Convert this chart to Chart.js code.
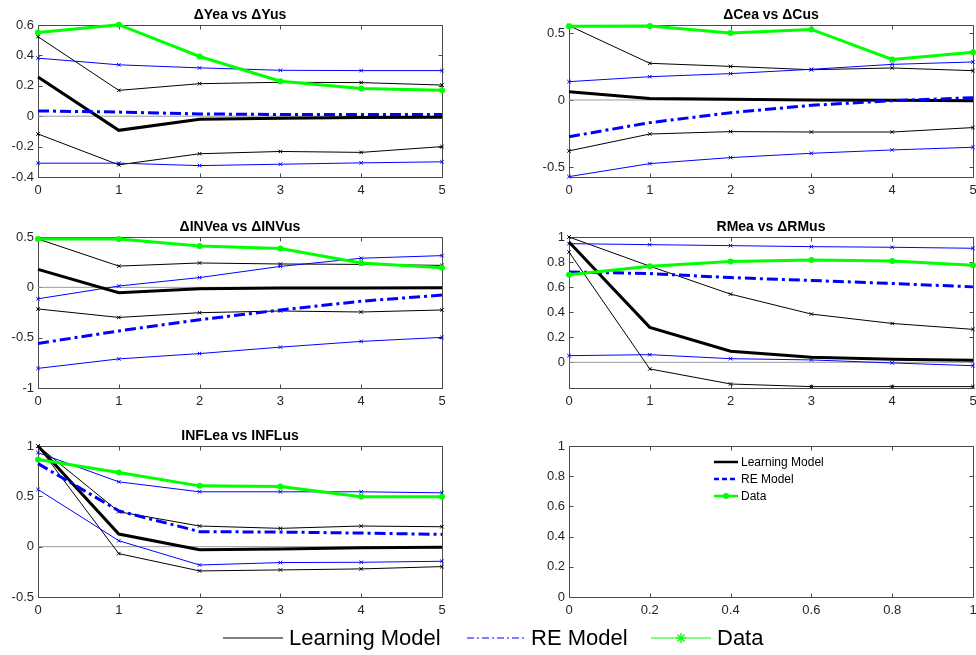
<!DOCTYPE html>
<html><head><meta charset="utf-8">
<script src="https://cdn.jsdelivr.net/npm/chart.js@4.4.1/dist/chart.umd.min.js"></script>
<style>
html,body{margin:0;padding:0;background:#fff;width:976px;height:655px;overflow:hidden;font-family:"Liberation Sans",Arial,Helvetica,sans-serif;}
canvas{position:absolute;}
#overlay{position:absolute;left:0;top:0;pointer-events:none;}
.t{position:absolute;white-space:nowrap;color:#000;}
.s{font-size:12px;line-height:14px;}
.b{font-size:22px;line-height:26px;}
</style></head><body>
<svg id="overlay" width="976" height="655">
  <line x1="714" y1="462" x2="738" y2="462" stroke="#000" stroke-width="2.5"/>
  <line x1="714" y1="479" x2="738" y2="479" stroke="#0000ff" stroke-width="2.5" stroke-dasharray="5,3"/>
  <line x1="714" y1="496" x2="738" y2="496" stroke="#00ff00" stroke-width="2.5"/>
  <circle cx="726" cy="496" r="3" fill="#00ff00"/>
  <line x1="223" y1="638" x2="283" y2="638" stroke="#000" stroke-width="1"/>
  <line x1="467" y1="638" x2="527" y2="638" stroke="#0000ff" stroke-width="1" stroke-dasharray="7,3,2,3"/>
  <line x1="651" y1="638" x2="711" y2="638" stroke="#00ff00" stroke-width="1"/>
  <g stroke="#00ff00" stroke-width="1.3">
    <line x1="676" y1="638" x2="686" y2="638"/>
    <line x1="681" y1="633" x2="681" y2="643"/>
    <line x1="677.5" y1="634.5" x2="684.5" y2="641.5"/>
    <line x1="677.5" y1="641.5" x2="684.5" y2="634.5"/>
  </g>
</svg>
<div class="t s" style="left:741px;top:455px;">Learning Model</div>
<div class="t s" style="left:741px;top:472px;">RE Model</div>
<div class="t s" style="left:741px;top:489px;">Data</div>
<div class="t b" style="left:289px;top:625px;">Learning Model</div>
<div class="t b" style="left:531px;top:625px;">RE Model</div>
<div class="t b" style="left:717px;top:625px;">Data</div>
<script>
const steps = [0,1,2,3,4,5];
const zeroLine = [0,0,0,0,0,0];

// ΔYea vs ΔYus
const yeaLearn   = [0.258, -0.093, -0.020, -0.013, -0.009, -0.007];
const yeaLearnHi = [0.523, 0.170, 0.214, 0.223, 0.221, 0.205];
const yeaLearnLo = [-0.117, -0.320, -0.247, -0.232, -0.238, -0.200];
const yeaRE      = [0.035, 0.027, 0.015, 0.011, 0.011, 0.011];
const yeaREHi    = [0.382, 0.338, 0.318, 0.302, 0.300, 0.300];
const yeaRELo    = [-0.309, -0.309, -0.325, -0.316, -0.307, -0.300];
const yeaData    = [0.550, 0.602, 0.393, 0.230, 0.183, 0.170];
const yeaTicks   = [-0.4, -0.2, 0, 0.2, 0.4, 0.6];

// ΔCea vs ΔCus
const ceaLearn   = [0.062, 0.012, 0.005, 0.000, -0.002, -0.005];
const ceaLearnHi = [0.555, 0.274, 0.251, 0.226, 0.239, 0.219];
const ceaLearnLo = [-0.380, -0.254, -0.236, -0.239, -0.239, -0.206];
const ceaRE      = [-0.274, -0.169, -0.095, -0.040, -0.005, 0.017];
const ceaREHi    = [0.137, 0.174, 0.197, 0.229, 0.266, 0.284];
const ceaRELo    = [-0.572, -0.475, -0.430, -0.398, -0.373, -0.353];
const ceaData    = [0.550, 0.552, 0.500, 0.527, 0.303, 0.356];
const ceaTicks   = [-0.5, 0, 0.5];

// ΔINVea vs ΔINVus
const invLearn   = [0.178, -0.054, -0.013, -0.007, -0.007, -0.003];
const invLearnHi = [0.480, 0.211, 0.242, 0.232, 0.228, 0.218];
const invLearnLo = [-0.215, -0.299, -0.252, -0.235, -0.245, -0.225];
const invRE      = [-0.557, -0.433, -0.322, -0.225, -0.138, -0.077];
const invREHi    = [-0.114, 0.013, 0.097, 0.208, 0.289, 0.315];
const invRELo    = [-0.805, -0.711, -0.658, -0.594, -0.537, -0.497];
const invData    = [0.480, 0.480, 0.410, 0.386, 0.242, 0.195];
const invTicks   = [-1, -0.5, 0, 0.5];

// RMea vs ΔRMus
const rmLearn    = [0.960, 0.279, 0.088, 0.040, 0.024, 0.016];
const rmLearnHi  = [1.000, 0.767, 0.544, 0.385, 0.310, 0.263];
const rmLearnLo  = [0.880, -0.053, -0.173, -0.194, -0.194, -0.194];
const rmRE       = [0.721, 0.708, 0.676, 0.653, 0.629, 0.602];
const rmREHi     = [0.947, 0.939, 0.931, 0.923, 0.918, 0.910];
const rmRELo     = [0.053, 0.061, 0.029, 0.019, -0.005, -0.027];
const rmData     = [0.698, 0.767, 0.804, 0.817, 0.809, 0.775];
const rmTicks    = [0, 0.2, 0.4, 0.6, 0.8, 1];

// INFLea vs INFLus
const inflLearn   = [1.000, 0.125, -0.030, -0.023, -0.010, -0.007];
const inflLearnHi = [1.000, 0.347, 0.205, 0.182, 0.205, 0.198];
const inflLearnLo = [1.000, -0.069, -0.241, -0.231, -0.221, -0.198];
const inflRE      = [0.825, 0.356, 0.149, 0.145, 0.135, 0.122];
const inflREHi    = [0.934, 0.644, 0.545, 0.545, 0.545, 0.535];
const inflRELo    = [0.568, 0.059, -0.182, -0.158, -0.155, -0.145];
const inflData    = [0.865, 0.736, 0.604, 0.597, 0.495, 0.495];
const inflTicks   = [-0.5, 0, 0.5, 1];

const stepTicks  = [0, 1, 2, 3, 4, 5];
const unitTicks  = [0, 0.2, 0.4, 0.6, 0.8, 1];

const FONT = '"Liberation Sans", Arial, Helvetica, sans-serif';
const AX = '#262626';

const framePlugin = {
  id: 'frame',
  beforeDatasetsDraw(chart, args, opts) {
    const ctx = chart.ctx, a = chart.chartArea;
    const xs = chart.scales.x, ys = chart.scales.y;
    ctx.save();
    ctx.strokeStyle = '#4a4a4a';
    ctx.lineWidth = 1;
    ctx.beginPath();
    const L = Math.round(a.left) + 0.5, R = Math.round(a.right) + 0.5;
    const T = Math.round(a.top) + 0.5, B = Math.round(a.bottom) + 0.5;
    ctx.rect(L, T, R - L, B - T);
    xs.ticks.forEach(t => {
      const px = Math.round(xs.getPixelForValue(t.value)) + 0.5;
      ctx.moveTo(px, B); ctx.lineTo(px, B - 4);
      ctx.moveTo(px, T); ctx.lineTo(px, T + 4);
    });
    ys.ticks.forEach(t => {
      const py = Math.round(ys.getPixelForValue(t.value)) + 0.5;
      ctx.moveTo(L, py); ctx.lineTo(L + 4, py);
      ctx.moveTo(R, py); ctx.lineTo(R - 4, py);
    });
    ctx.stroke();
    ctx.restore();
  },
  afterDraw(chart, args, opts) {
    if (!opts.title) return;
    const ctx = chart.ctx, a = chart.chartArea;
    ctx.save();
    ctx.font = 'bold 14px ' + FONT;
    ctx.fillStyle = '#000';
    ctx.textAlign = 'center';
    ctx.textBaseline = 'middle';
    ctx.fillText(opts.title, (a.left + a.right) / 2, a.top - 10);
    ctx.restore();
  }
};

function pts(arr) { return steps.map((x, i) => ({x: x, y: arr[i]})); }

function seriesSet(learn, learnHi, learnLo, re, reHi, reLo, data) {
  const band = (arr, col, ord) => ({
    data: pts(arr), borderColor: col, borderWidth: 1, pointStyle: 'crossRot',
    pointRadius: 2.5, pointBorderWidth: 1, pointBorderColor: col, pointBackgroundColor: col,
    order: ord, tension: 0, clip: false
  });
  return [
    {data: pts(zeroLine), borderColor: '#9a9a9a', borderWidth: 1, pointRadius: 0, order: 10, clip: false},
    band(learnHi, '#000000', 7),
    band(learnLo, '#000000', 7),
    band(reHi, '#0000ff', 6),
    band(reLo, '#0000ff', 6),
    {data: pts(learn), borderColor: '#000000', borderWidth: 3, pointRadius: 0, order: 4, clip: false},
    {data: pts(re), borderColor: '#0000ff', borderWidth: 3, borderDash: [11, 4, 3, 4], pointRadius: 0, order: 3, clip: false},
    {data: pts(data), borderColor: '#00ff00', borderWidth: 3, pointRadius: 3, pointStyle: 'circle',
     pointBackgroundColor: '#00ff00', pointBorderColor: '#00ff00', pointBorderWidth: 0, order: 1, clip: false}
  ];
}

function fmt(v) { return String(Math.round(v * 1000) / 1000); }

function makePanel(left, top, w, h, title, xTicks, xMin, xMax, yTicks, yMin, yMax, datasets) {
  const PL = 40, PT = 25, PR = 10, PB = 25;
  const cv = document.createElement('canvas');
  cv.width = w + PL + PR; cv.height = h + PT + PB;
  cv.style.left = (left - PL) + 'px'; cv.style.top = (top - PT) + 'px';
  cv.style.width = cv.width + 'px'; cv.style.height = cv.height + 'px';
  document.body.insertBefore(cv, document.getElementById('overlay'));
  new Chart(cv, {
    type: 'line',
    data: {datasets: datasets},
    plugins: [framePlugin],
    options: {
      responsive: false, animation: false, devicePixelRatio: 1,
      layout: {padding: {left: 0, top: PT, right: PR, bottom: 0}},
      plugins: {legend: {display: false}, tooltip: {enabled: false}, frame: {title: title}},
      scales: {
        x: {
          type: 'linear', min: xMin, max: xMax,
          grid: {display: false, drawTicks: false}, border: {display: false},
          afterBuildTicks: s => { s.ticks = xTicks.map(v => ({value: v})); },
          afterFit: s => { s.height = PB; },
          ticks: {padding: 6, color: AX, font: {family: FONT, size: 13}, maxRotation: 0, autoSkip: false, callback: fmt}
        },
        y: {
          type: 'linear', min: yMin, max: yMax,
          grid: {display: false, drawTicks: false}, border: {display: false},
          afterBuildTicks: s => { s.ticks = yTicks.map(v => ({value: v})); },
          afterFit: s => { s.width = PL; },
          ticks: {padding: 4, color: AX, font: {family: FONT, size: 13}, autoSkip: false, callback: fmt}
        }
      }
    }
  });
}

const LX = 38, RX = 569, W = 404;
makePanel(LX, 25, W, 152, '\u0394Yea vs \u0394Yus', stepTicks, 0, 5, yeaTicks, -0.4, 0.6,
  seriesSet(yeaLearn, yeaLearnHi, yeaLearnLo, yeaRE, yeaREHi, yeaRELo, yeaData));
makePanel(RX, 25, W, 152, '\u0394Cea vs \u0394Cus', stepTicks, 0, 5, ceaTicks, -0.575, 0.56,
  seriesSet(ceaLearn, ceaLearnHi, ceaLearnLo, ceaRE, ceaREHi, ceaRELo, ceaData));
makePanel(LX, 237, W, 151, '\u0394INVea vs \u0394INVus', stepTicks, 0, 5, invTicks, -1, 0.5,
  seriesSet(invLearn, invLearnHi, invLearnLo, invRE, invREHi, invRELo, invData));
makePanel(RX, 237, W, 151, 'RMea vs \u0394RMus', stepTicks, 0, 5, rmTicks, -0.205, 1,
  seriesSet(rmLearn, rmLearnHi, rmLearnLo, rmRE, rmREHi, rmRELo, rmData));
makePanel(LX, 446, W, 151, 'INFLea vs INFLus', stepTicks, 0, 5, inflTicks, -0.5, 1,
  seriesSet(inflLearn, inflLearnHi, inflLearnLo, inflRE, inflREHi, inflRELo, inflData));
makePanel(RX, 446, W, 151, '', unitTicks, 0, 1, unitTicks, 0, 1, []);
</script>
</body></html>
